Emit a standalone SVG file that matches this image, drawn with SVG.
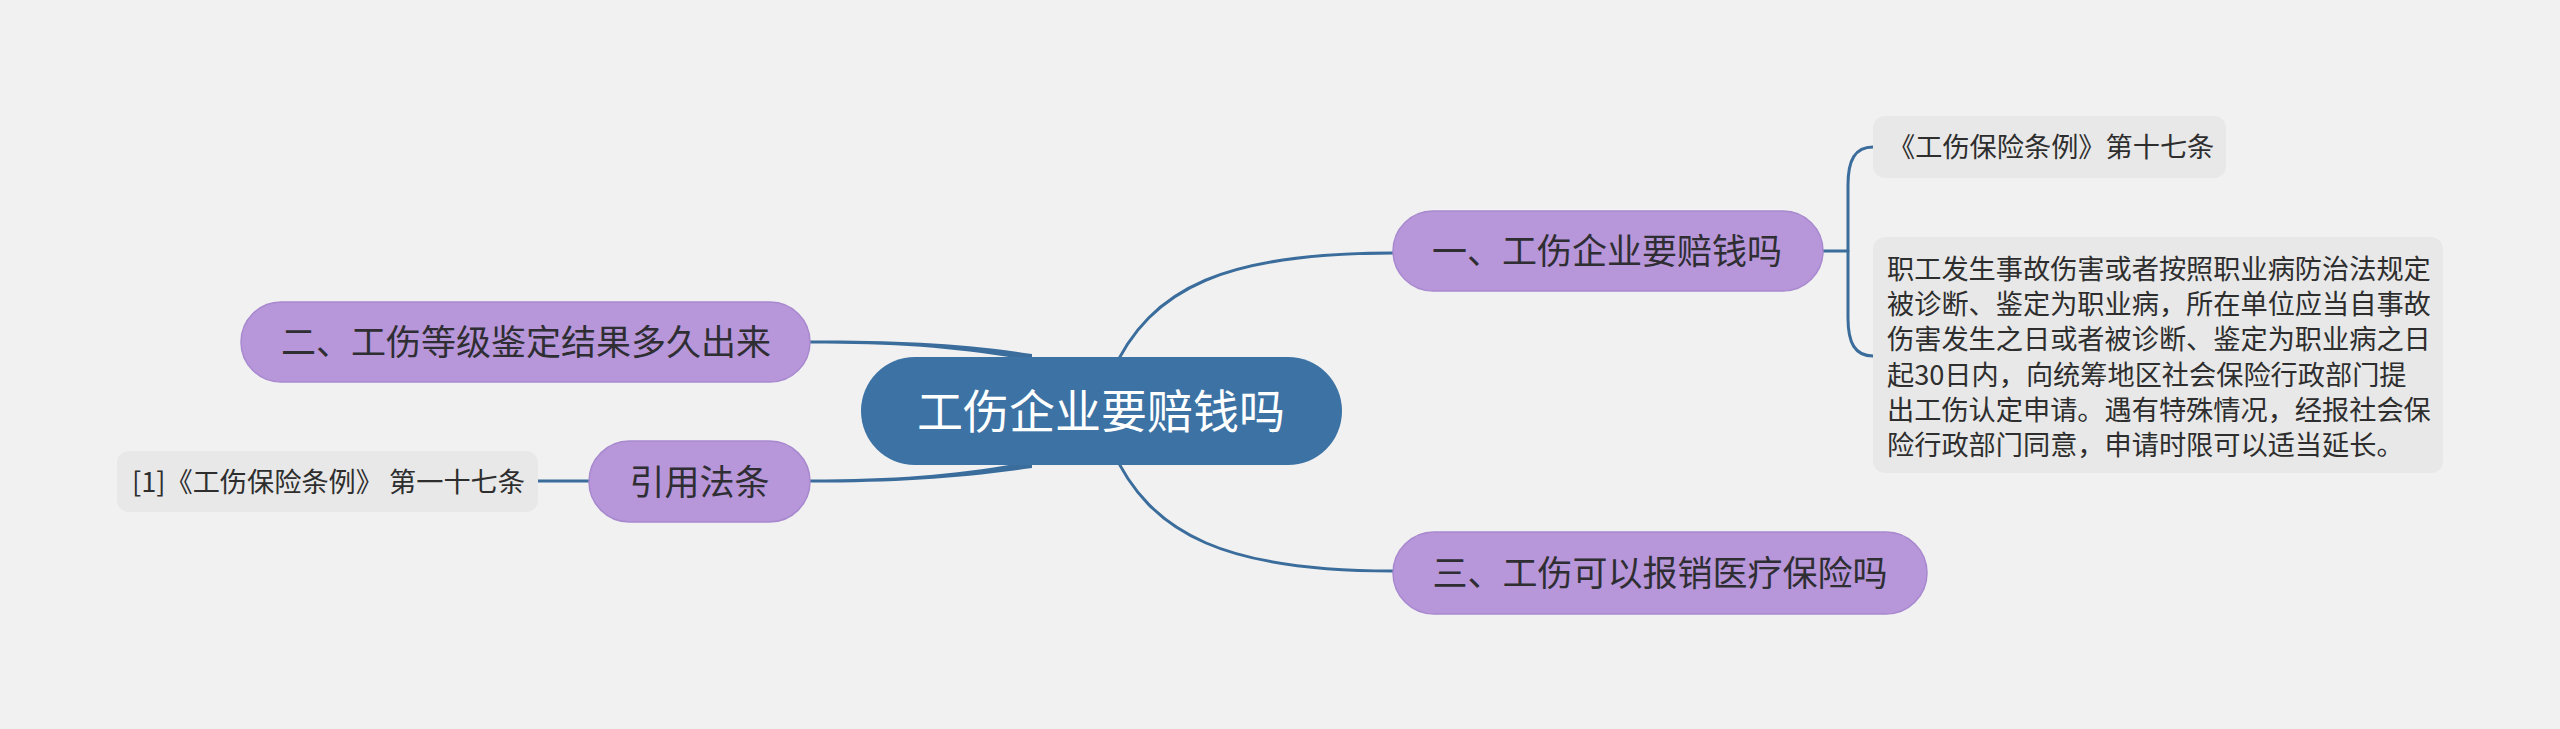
<svg xmlns="http://www.w3.org/2000/svg" width="2560" height="729" viewBox="0 0 2560 729">
<style>
text{font-family:"Noto Sans CJK SC","Noto Sans",sans-serif;}
.bg{fill:#f1f1f1;}
.root{fill:#3c72a4;}
.rootT{fill:#ffffff;font-size:46px;text-anchor:middle;}
.main{fill:#b796d9;stroke:#a889cf;stroke-width:1.5;}
.mainT{fill:#2e2e33;font-size:35px;text-anchor:middle;}
.leaf{fill:#e8e8e8;}
.leafT{fill:#2e2e2e;font-size:27.2px;}
.ln{fill:none;stroke:#3a6c9c;stroke-width:3;stroke-linecap:round;}
.wedge{fill:#3a6c9c;}
</style>
<rect class="bg" x="0" y="0" width="2560" height="729"/>
<g id="connectors">
<path class="ln" d="M1111,375 C1150,285 1230,253 1393,253"/>
<path class="ln" d="M1111,447 C1150,537 1230,571 1393,571"/>
<path class="wedge" d="M810,340.5 C900,340.5 960,343 1032,354 L1032,361 C960,348 900,343.5 810,343.5 Z"/>
<path class="wedge" d="M810,479.5 C900,479.5 960,474 1032,461 L1032,468 C960,478 900,482.5 810,482.5 Z"/>
<path class="ln" d="M538,481 L589,481"/>
<path class="ln" d="M1823,251 L1848,251"/>
<path class="ln" d="M1873,147 C1855,147 1848,160 1848,185 L1848,318 C1848,343 1855,356 1873,356"/>
</g>
<g id="root">
<rect class="root" x="861" y="357" width="481" height="108" rx="54"/>
<text class="rootT" x="1101" y="428">工伤企业要赔钱吗</text>
</g>
<g id="n1">
<rect class="main" x="1393" y="211" width="430" height="80" rx="40"/>
<text class="mainT" x="1607" y="264">一、工伤企业要赔钱吗</text>
</g>
<g id="n2">
<rect class="main" x="241" y="302" width="569" height="80" rx="40"/>
<text class="mainT" x="526" y="355">二、工伤等级鉴定结果多久出来</text>
</g>
<g id="n3">
<rect class="main" x="1393" y="532" width="534" height="82" rx="41"/>
<text class="mainT" x="1660" y="586">三、工伤可以报销医疗保险吗</text>
</g>
<g id="n4">
<rect class="main" x="589" y="441" width="221" height="81" rx="40.5"/>
<text class="mainT" x="699.5" y="495">引用法条</text>
</g>
<g id="leaf1">
<rect class="leaf" x="1873" y="116" width="353" height="62" rx="12"/>
<text class="leafT" x="1888" y="157">《工伤保险条例》第十七条</text>
</g>
<g id="leaf2">
<rect class="leaf" x="1873" y="237" width="570" height="236" rx="12"/>
<text class="leafT">
<tspan x="1887" y="279">职工发生事故伤害或者按照职业病防治法规定</tspan>
<tspan x="1887" y="314.2">被诊断、鉴定为职业病，所在单位应当自事故</tspan>
<tspan x="1887" y="349.4">伤害发生之日或者被诊断、鉴定为职业病之日</tspan>
<tspan x="1887" y="384.6">起30日内，向统筹地区社会保险行政部门提</tspan>
<tspan x="1887" y="419.8">出工伤认定申请。遇有特殊情况，经报社会保</tspan>
<tspan x="1887" y="455">险行政部门同意，申请时限可以适当延长。</tspan>
</text>
</g>
<g id="leaf3">
<rect class="leaf" x="117" y="451" width="421" height="61" rx="12"/>
<text class="leafT" x="132" y="492">[1]《工伤保险条例》 第一十七条</text>
</g>
</svg>
